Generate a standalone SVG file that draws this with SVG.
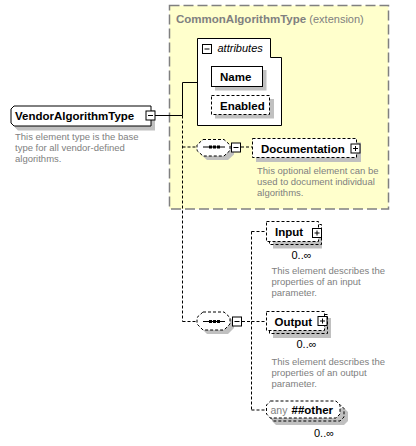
<svg xmlns="http://www.w3.org/2000/svg" width="416" height="446" viewBox="0 0 416 446">
<style>
.bold{font-family:"Liberation Sans",Arial,sans-serif;font-weight:bold;font-size:11.5px;fill:#000}
.desc{font-family:"Liberation Sans",Arial,sans-serif;font-size:9.5px;fill:#808080}
.occ{font-family:"Liberation Sans",Arial,sans-serif;font-size:11px;fill:#000}
.shadow{fill:#c0c0c0;stroke:none}
.box{fill:#fff;stroke:#000;stroke-width:1}
.dbox{fill:#fff;stroke:#000;stroke-width:1;stroke-dasharray:3 2}
.dframe{fill:none;stroke:#000;stroke-width:1;stroke-dasharray:3 2}
.btn{fill:#fff;stroke:#000;stroke-width:1}
.sym{stroke:#000;stroke-width:1;fill:none}
.solid{stroke:#000;stroke-width:1;fill:none}
.dash{stroke:#000;stroke-width:1;fill:none;stroke-dasharray:3 2}
</style>
<defs>
<g id="minus"><rect class="btn" x="0" y="0" width="9" height="9"/><line class="sym" x1="2" y1="4.5" x2="7" y2="4.5"/></g>
<g id="plus"><rect class="btn" x="0" y="0" width="9" height="9"/><line class="sym" x1="2" y1="4.5" x2="7" y2="4.5"/><line class="sym" x1="4.5" y1="2" x2="4.5" y2="7"/></g>
</defs>

<g id="extension">
<rect x="169.5" y="5.5" width="219" height="203.5" fill="#ffffcc" stroke="#808080" stroke-width="1.5" stroke-dasharray="10 4"/>
<text x="176" y="23" class="bold" style="fill:#808080">CommonAlgorithmType <tspan font-weight="normal" font-size="11px">(extension)</tspan></text>
</g>

<g id="connectors">
<line class="solid" x1="155" y1="115.5" x2="182.5" y2="115.5"/>
<polyline class="solid" points="182.5,115.5 182.5,82.5 197,82.5"/>
<line class="dash" x1="182.5" y1="115.5" x2="182.5" y2="321.5"/>
<line class="dash" x1="182.5" y1="147" x2="197" y2="147"/>
<line class="dash" x1="182.5" y1="321.5" x2="197" y2="321.5"/>
<line class="dash" x1="241" y1="147" x2="252" y2="147"/>
<line class="dash" x1="242" y1="321.5" x2="251.5" y2="321.5"/>
<line class="dash" x1="251.5" y1="231.5" x2="251.5" y2="410"/>
<line class="dash" x1="251.5" y1="231.5" x2="266.5" y2="231.5"/>
<line class="dash" x1="251.5" y1="321.5" x2="266.5" y2="321.5"/>
<line class="dash" x1="251.5" y1="410" x2="266" y2="410"/>
</g>

<g id="VendorAlgorithmType">
<polygon class="shadow" points="18,110 155,110 155,130.5 18,130.5 15,127.5 15,113"/>
<polygon class="box" points="14,106 151,106 151,126 14,126 11,123 11,109"/>
<text x="15" y="120" class="bold">VendorAlgorithmType</text>
<use href="#minus" x="146" y="111"/>
<text class="desc"><tspan x="15" y="140">This element type is the base</tspan><tspan x="15" y="151">type for all vendor-defined</tspan><tspan x="15" y="162">algorithms.</tspan></text>
</g>

<g id="attributes">
<polygon class="box" points="197.5,38.5 270.5,38.5 270.5,57.5 281.5,57.5 281.5,125.5 197.5,125.5"/>
<use href="#minus" x="202.5" y="44.5"/>
<text x="217.5" y="52" font-family="Liberation Sans, Arial, sans-serif" font-style="italic" font-size="11px">attributes</text>
</g>

<g id="Name">
<rect class="shadow" x="215" y="70" width="51.5" height="20.5"/>
<rect class="box" x="211.5" y="66.5" width="51" height="20"/>
<text x="220" y="81" class="bold">Name</text>
</g>

<g id="Enabled">
<rect class="shadow" x="215" y="99" width="59" height="19.5"/>
<rect class="dbox" x="211.5" y="95.5" width="58" height="19"/>
<text x="220" y="109.5" class="bold">Enabled</text>
</g>

<g id="sequence1">
<polygon class="shadow" points="207,143.5 228,143.5 234,149 234,154.5 228,160 207,160 201,154.5 201,149"/>
<polygon class="dbox" points="203,139.5 224,139.5 230,145 230,150.5 224,156 203,156 197,150.5 197,145"/>
<line class="sym" x1="203" y1="147" x2="225" y2="147"/>
<rect x="209" y="145.5" width="3" height="3"/>
<rect x="213" y="145.5" width="3" height="3"/>
<rect x="217" y="145.5" width="3" height="3"/>
<use href="#minus" x="231.5" y="143"/>
</g>

<g id="Documentation">
<rect class="shadow" x="256" y="142.5" width="105" height="19.5"/>
<rect class="dbox" x="252.5" y="138.5" width="104" height="19"/>
<text x="261" y="152.5" class="bold">Documentation</text>
<use href="#plus" x="351" y="144"/>
<text class="desc"><tspan x="257" y="173.5">This optional element can be</tspan><tspan x="257" y="184.5">used to document individual</tspan><tspan x="257" y="195.5">algorithms.</tspan></text>
</g>

<g id="sequence2">
<polygon class="shadow" points="207,316 228,316 234,321.5 234,328 228,334 207,334 201,328 201,321.5"/>
<polygon class="dbox" points="203,312 224,312 230,317.5 230,324 224,330 203,330 197,324 197,317.5"/>
<line class="sym" x1="203" y1="321.5" x2="225" y2="321.5"/>
<rect x="209" y="320" width="3" height="3"/>
<rect x="213" y="320" width="3" height="3"/>
<rect x="217" y="320" width="3" height="3"/>
<use href="#minus" x="232.5" y="317"/>
</g>

<g id="Input">
<rect class="shadow" x="273" y="228" width="49" height="20.5"/>
<rect class="dframe" x="269.5" y="224.5" width="52" height="20"/>
<rect class="dbox" x="266.5" y="221.5" width="52" height="20"/>
<text x="275" y="236" class="bold">Input</text>
<use href="#plus" x="312.5" y="228.5"/>
<text x="291.5" y="258.5" class="occ">0..∞</text>
<text class="desc"><tspan x="271.5" y="274">This element describes the</tspan><tspan x="271.5" y="285">properties of an input</tspan><tspan x="271.5" y="296">parameter.</tspan></text>
</g>

<g id="Output">
<rect class="shadow" x="273" y="318" width="58" height="20"/>
<rect class="dframe" x="269.5" y="314.5" width="58" height="19"/>
<rect class="dbox" x="266.5" y="311.5" width="58" height="19"/>
<text x="274.5" y="326" class="bold">Output</text>
<use href="#plus" x="318" y="316.5"/>
<text x="296.5" y="347.5" class="occ">0..∞</text>
<text class="desc"><tspan x="271.5" y="365">This element describes the</tspan><tspan x="271.5" y="376">properties of an output</tspan><tspan x="271.5" y="387">parameter.</tspan></text>
</g>

<g id="any">
<polygon class="shadow" points="276,408 344,408 348,412 348,421 344,425 276,425 272,421 272,412"/>
<polygon class="dframe" points="273.5,404.5 340,404.5 344,408.5 344,417 340,421 273.5,421 269.5,417 269.5,408.5"/>
<polygon class="dbox" points="270.5,401 336,401 340,405 340,414 336,418 270.5,418 266.5,414 266.5,405"/>
<text x="270.5" y="413.5" font-family="Liberation Sans, Arial, sans-serif" font-size="10.5px" fill="#808080">any</text>
<text x="291.5" y="413.5" class="bold">##other</text>
<text x="314" y="437" class="occ">0..∞</text>
</g>
</svg>
